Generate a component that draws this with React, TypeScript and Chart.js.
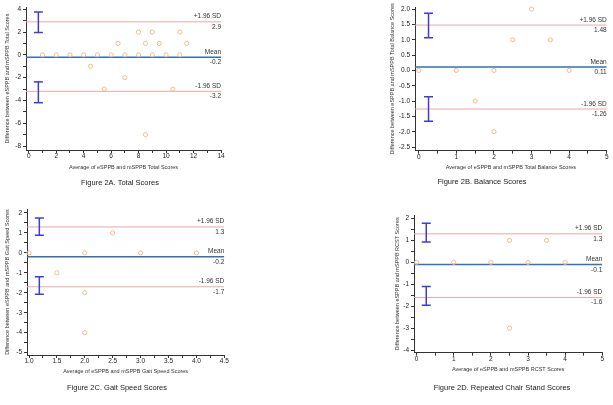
import React, { useEffect, useRef } from "react";
import { Chart, registerables } from "chart.js";

Chart.register(...registerables);
Chart.defaults.font.family = '"Liberation Sans", Arial, sans-serif';

// ---------- Data ----------
// Figure 2A – Total scores
const totalAvg = [1, 2, 3, 4, 5, 6, 7, 8, 9, 10, 11, 6.5, 8.5, 9.5, 11.5, 8, 9, 11, 4.5, 7, 5.5, 10.5, 8.5];
const totalDiff = [0, 0, 0, 0, 0, 0, 0, 0, 0, 0, 0, 1, 1, 1, 1, 2, 2, 2, -1, -2, -3, -3, -7];
const totalLimits = [2.9, -0.2, -3.2]; // +1.96 SD, mean, -1.96 SD
const totalUpperCI = [1.96, 3.76];
const totalLowerCI = [-4.2, -2.37];

// Figure 2B – Balance scores
const balanceAvg = [0, 1, 2, 4, 3, 2.5, 3.5, 1.5, 2];
const balanceDiff = [0, 0, 0, 0, 2, 1, 1, -1, -2];
const balanceLimits = [1.48, 0.11, -1.26];
const balanceUpperCI = [1.07, 1.87];
const balanceLowerCI = [-1.66, -0.86];

// Figure 2C – Gait speed scores
const gaitAvg = [1, 2, 3, 4, 2.5, 1.5, 2, 2];
const gaitDiff = [0, 0, 0, 0, 1, -1, -2, -4];
const gaitLimits = [1.3, -0.2, -1.7];
const gaitUpperCI = [0.885, 1.75];
const gaitLowerCI = [-2.07, -1.2];

// Figure 2D – Repeated chair stand scores
const chairAvg = [0, 1, 2, 3, 4, 2.5, 3.5, 2.5];
const chairDiff = [0, 0, 0, 0, 0, 1, 1, -3];
const chairLimits = [1.3, -0.1, -1.6];
const chairUpperCI = [0.93, 1.78];
const chairLowerCI = [-1.96, -1.1];

const limitNames = ["+1.96 SD", "Mean", "-1.96 SD"];

// ---------- Styles ----------
const POINT = "#f2bc88";
const SDLINE = "#e6a9a9";
const MEAN = "#336fba";
const CI = "#3b3be0";
const AXIS = "#333333";

type PanelCfg = {
  left: number; top: number; width: number; height: number;
  padTop: number; padRight: number; yAxisWidth: number; xAxisHeight: number;
  yTitlePad: number; xTitlePad: number;
  xMin: number; xMax: number; xStep: number; xMajor: number; xDec: number;
  yMin: number; yMax: number; yStep: number; yMajor: number; yDec: number;
  xs: number[]; ys: number[]; limits: number[]; ciX: number; upperCI: number[]; lowerCI: number[];
  xTitle: string; yTitle: string;
};

const panels: PanelCfg[] = [
  {
    left: 0, top: 0, width: 235, height: 175, padTop: 7, padRight: 14, yAxisWidth: 26, xAxisHeight: 25,
    yTitlePad: 3.7, xTitlePad: 4.7,
    xMin: -0.2, xMax: 14, xStep: 1, xMajor: 2, xDec: 0,
    yMin: -8.35, yMax: 4.2, yStep: 1, yMajor: 2, yDec: 0,
    xs: totalAvg, ys: totalDiff, limits: totalLimits, ciX: 0.7, upperCI: totalUpperCI, lowerCI: totalLowerCI,
    xTitle: "Average of eSPPB and mSPPB Total Scores",
    yTitle: "Difference between eSPPB and mSPPB Total Scores",
  },
  {
    left: 386, top: 0, width: 227, height: 175, padTop: 7, padRight: 6.3, yAxisWidth: 29, xAxisHeight: 24.3,
    yTitlePad: 3.4, xTitlePad: 4.4,
    xMin: -0.1, xMax: 5, xStep: 0.5, xMajor: 1, xDec: 0,
    yMin: -2.62, yMax: 2.07, yStep: 0.5, yMajor: 0.5, yDec: 1,
    xs: balanceAvg, ys: balanceDiff, limits: balanceLimits, ciX: 0.26, upperCI: balanceUpperCI, lowerCI: balanceLowerCI,
    xTitle: "Average of eSPPB and mSPPB Total Balance Scores",
    yTitle: "Difference between eSPPB and mSPPB Total Balance Scores",
  },
  {
    left: 0, top: 200, width: 235, height: 177, padTop: 9, padRight: 10.7, yAxisWidth: 27, xAxisHeight: 22,
    yTitlePad: 3.7, xTitlePad: 2,
    xMin: 0.964, xMax: 4.5, xStep: 0.25, xMajor: 0.5, xDec: 1,
    yMin: -5.12, yMax: 2.2, yStep: 0.5, yMajor: 1, yDec: 0,
    xs: gaitAvg, ys: gaitDiff, limits: gaitLimits, ciX: 1.185, upperCI: gaitUpperCI, lowerCI: gaitLowerCI,
    xTitle: "Average of eSPPB and mSPPB Gait Speed Scores",
    yTitle: "Difference between eSPPB and mSPPB Gait Speed Scores",
  },
  {
    left: 386, top: 200, width: 227, height: 177, padTop: 15, padRight: 10.7, yAxisWidth: 28, xAxisHeight: 24.3,
    yTitlePad: 8, xTitlePad: 4.4,
    xMin: -0.07, xMax: 5, xStep: 0.5, xMajor: 1, xDec: 0,
    yMin: -4.12, yMax: 2.16, yStep: 0.5, yMajor: 1, yDec: 0,
    xs: chairAvg, ys: chairDiff, limits: chairLimits, ciX: 0.26, upperCI: chairUpperCI, lowerCI: chairLowerCI,
    xTitle: "Average of eSPPB and mSPPB RCST Scores",
    yTitle: "Difference between eSPPB and mSPPB RCST Scores",
  },
];

const captions = [
  { text: "Figure 2A. Total Scores", cx: 120, cy: 182 },
  { text: "Figure 2B. Balance Scores", cx: 482, cy: 181 },
  { text: "Figure 2C. Gait Speed Scores", cx: 117, cy: 387 },
  { text: "Figure 2D. Repeated Chair Stand Scores", cx: 502, cy: 387 },
];

const isMajor = (v: number, major: number) => Math.abs(v / major - Math.round(v / major)) < 1e-6;

const baTextPlugin = {
  id: "baText",
  afterDatasetsDraw(chart: any, _args: any, opts: any) {
    const { ctx, chartArea, scales } = chart;
    ctx.save();
    ctx.font = '6.5px "Liberation Sans", Arial, sans-serif';
    ctx.fillStyle = "#333";
    ctx.textAlign = "right";
    (opts.values as number[]).forEach((v, i) => {
      const y = scales.y.getPixelForValue(v);
      ctx.textBaseline = "bottom";
      ctx.fillText(opts.names[i], chartArea.right, y - 2);
      ctx.textBaseline = "top";
      ctx.fillText(String(v), chartArea.right, y + 2);
    });
    ctx.restore();
  },
};

function Panel({ cfg }: { cfg: PanelCfg }) {
  const ref = useRef<HTMLCanvasElement>(null);
  useEffect(() => {
    const c = cfg;
    const hLine = (y: number) => [
      { x: c.xMin, y },
      { x: c.xMax, y },
    ];
    const ciData = (r: number[]) => [
      { x: c.ciX, y: r[1] },
      { x: c.ciX, y: r[0] },
    ];
    const ciDs = (r: number[]) => ({
      data: ciData(r),
      showLine: true,
      borderColor: CI,
      borderWidth: 1.5,
      pointStyle: "line" as const,
      pointRadius: 4.5,
      pointBorderColor: CI,
      pointBorderWidth: 1.5,
      pointBackgroundColor: CI,
    });
    const lineDs = (y: number, color: string, w: number) => ({
      data: hLine(y),
      showLine: true,
      borderColor: color,
      borderWidth: w,
      pointRadius: 0,
    });
    const chart = new Chart(ref.current as HTMLCanvasElement, {
      type: "scatter",
      data: {
        datasets: [
          {
            data: c.xs.map((x, i) => ({ x, y: c.ys[i] })),
            pointStyle: "circle",
            pointRadius: 2.1,
            borderColor: POINT,
            backgroundColor: "rgba(0,0,0,0)",
            borderWidth: 1,
            clip: false as any,
          },
          ciDs(c.upperCI),
          ciDs(c.lowerCI),
          lineDs(c.limits[1], MEAN, 1.5),
          lineDs(c.limits[0], SDLINE, 1),
          lineDs(c.limits[2], SDLINE, 1),
        ] as any,
      },
      options: {
        animation: false,
        responsive: false,
        events: [],
        layout: { padding: { top: c.padTop, right: c.padRight, left: 0, bottom: 0 } },
        plugins: {
          legend: { display: false },
          tooltip: { enabled: false },
          baText: { values: c.limits, names: limitNames },
        } as any,
        scales: {
          x: {
            type: "linear",
            position: "bottom",
            min: c.xMin,
            max: c.xMax,
            afterFit: (s: any) => { s.height = c.xAxisHeight; },
            ticks: {
              stepSize: c.xStep,
              includeBounds: false,
              autoSkip: false,
              maxRotation: 0,
              maxTicksLimit: 100,
              padding: 0,
              color: "#222",
              font: { size: 6.5, lineHeight: 1 },
              callback: (v: any) => (isMajor(Number(v), c.xMajor) ? Number(v).toFixed(c.xDec) : ""),
            },
            grid: { drawOnChartArea: false, drawTicks: true, tickLength: 3, color: AXIS },
            border: { display: true, color: AXIS, width: 1 },
            title: {
              display: true,
              text: c.xTitle,
              color: "#333",
              font: { size: 5.5 },
              padding: { top: 0, bottom: c.xTitlePad },
            },
          },
          y: {
            type: "linear",
            position: "left",
            min: c.yMin,
            max: c.yMax,
            afterFit: (s: any) => { s.width = c.yAxisWidth; },
            ticks: {
              stepSize: c.yStep,
              includeBounds: false,
              autoSkip: false,
              maxTicksLimit: 100,
              padding: 2,
              color: "#222",
              font: { size: 6.5, lineHeight: 1 },
              callback: (v: any) => (isMajor(Number(v), c.yMajor) ? Number(v).toFixed(c.yDec) : ""),
            },
            grid: { drawOnChartArea: false, drawTicks: true, tickLength: 3, color: AXIS },
            border: { display: true, color: AXIS, width: 1 },
            title: {
              display: true,
              text: c.yTitle,
              color: "#333",
              font: { size: 5.5 },
              padding: { top: c.yTitlePad, bottom: 0 },
            },
          },
        },
      } as any,
      plugins: [baTextPlugin],
    });
    return () => chart.destroy();
  }, [cfg]);
  return (
    <canvas
      ref={ref}
      width={cfg.width}
      height={cfg.height}
      style={{ position: "absolute", left: cfg.left, top: cfg.top, width: cfg.width, height: cfg.height, display: "block" }}
    />
  );
}

export default function App() {
  return (
    <div style={{ position: "fixed", left: 0, top: 0, width: 613, height: 405, background: "#fff", overflow: "hidden" }}>
      {panels.map((p, i) => (
        <Panel key={i} cfg={p} />
      ))}
      {captions.map((c, i) => (
        <div
          key={"c" + i}
          style={{
            position: "absolute",
            left: c.cx - 110,
            width: 220,
            top: c.cy - 4.5,
            height: 9,
            lineHeight: "9px",
            textAlign: "center",
            fontFamily: '"Liberation Sans", Arial, sans-serif',
            fontSize: 7.5,
            color: "#222",
            whiteSpace: "nowrap",
            opacity: 0.999,
            willChange: "transform",
            WebkitFontSmoothing: "antialiased",
          }}
        >
          {c.text}
        </div>
      ))}
    </div>
  );
}
